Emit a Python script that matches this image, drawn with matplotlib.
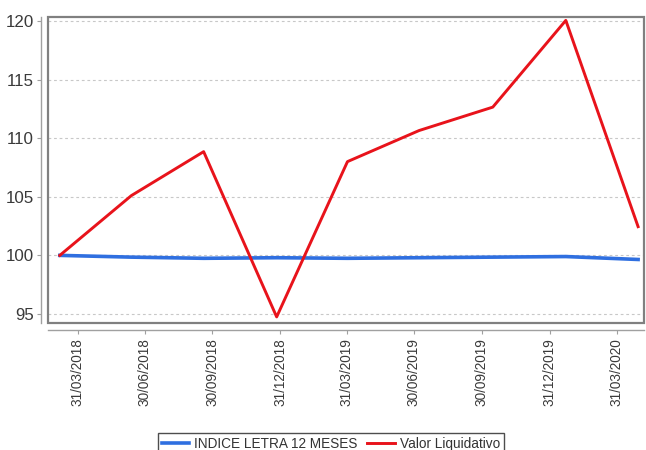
import matplotlib
matplotlib.use("Agg")
import matplotlib.pyplot as plt
import matplotlib.dates as mdates
from matplotlib.patches import Rectangle
import pandas as pd

plt.rcParams['font.family'] = ['Liberation Sans', 'DejaVu Sans']

# valuation dates and series
fechas = pd.to_datetime([
    "2018-03-07", "2018-06-12", "2018-09-18", "2018-12-26", "2019-04-01",
    "2019-07-07", "2019-10-15", "2020-01-22", "2020-04-29",
])
indice_letra = [100.0, 99.85, 99.75, 99.8, 99.75, 99.8, 99.85, 99.9, 99.65]
valor_liquidativo = [100.0, 105.1, 108.85, 94.75, 108.0, 110.65, 112.65, 120.05, 102.45]

tick_fechas = pd.to_datetime([
    "2018-03-31", "2018-06-30", "2018-09-30", "2018-12-31", "2019-03-31",
    "2019-06-30", "2019-09-30", "2019-12-31", "2020-03-31",
])
y_ticks = [95, 100, 105, 110, 115, 120]

W, H = 646, 450
fig = plt.figure(figsize=(W / 100, H / 100), dpi=100)
left, right, top, bottom = 48, 644, 17, 323
ax = fig.add_axes([left / W, 1 - bottom / H, (right - left) / W, (bottom - top) / H])

ax.plot(fechas, indice_letra, color="#2f6fe0", lw=2.6, label="INDICE LETRA 12 MESES", zorder=3)
ax.plot(fechas, valor_liquidativo, color="#e8131b", lw=2.1, label="Valor Liquidativo", zorder=4)

ax.set_xlim(pd.Timestamp("2018-02-19"), pd.Timestamp("2020-05-07"))
ax.set_ylim(94.23, 120.34)
ax.set_yticks(y_ticks)
ax.set_xticks(tick_fechas)
ax.xaxis.set_major_formatter(mdates.DateFormatter("%d/%m/%Y"))

ax.grid(axis="y", color="#c8c8c8", linestyle=(0, (2.5, 2.5)), lw=0.8)
ax.grid(axis="x", visible=False)

# frame around the plot area, axis lines pushed outwards
ax.add_patch(Rectangle((0, 0), 1, 1, transform=ax.transAxes, fill=False,
                       edgecolor="#808080", lw=1.6, clip_on=False, zorder=5))
for s in ("top", "right"):
    ax.spines[s].set_visible(False)
for s in ("left", "bottom"):
    ax.spines[s].set_position(("outward", 5))
    ax.spines[s].set_color("#a0a0a0")
    ax.spines[s].set_linewidth(1.0)

ax.tick_params(axis="both", colors="#a0a0a0", length=3, width=0.8,
               labelcolor="#3a3a3a")
ax.tick_params(axis="y", labelsize=12.2, pad=2)
ax.tick_params(axis="x", labelsize=9.8, labelrotation=90, pad=3)

fig.legend(loc="upper center", bbox_to_anchor=(331 / W, 1 - 426 / H), ncol=2,
           frameon=True, fancybox=False, edgecolor="#222222", fontsize=9.8,
           handlelength=2.0, handletextpad=0.4, columnspacing=0.7,
           borderpad=0.3, labelcolor="#333333")

fig.savefig("out.png", dpi=100)
